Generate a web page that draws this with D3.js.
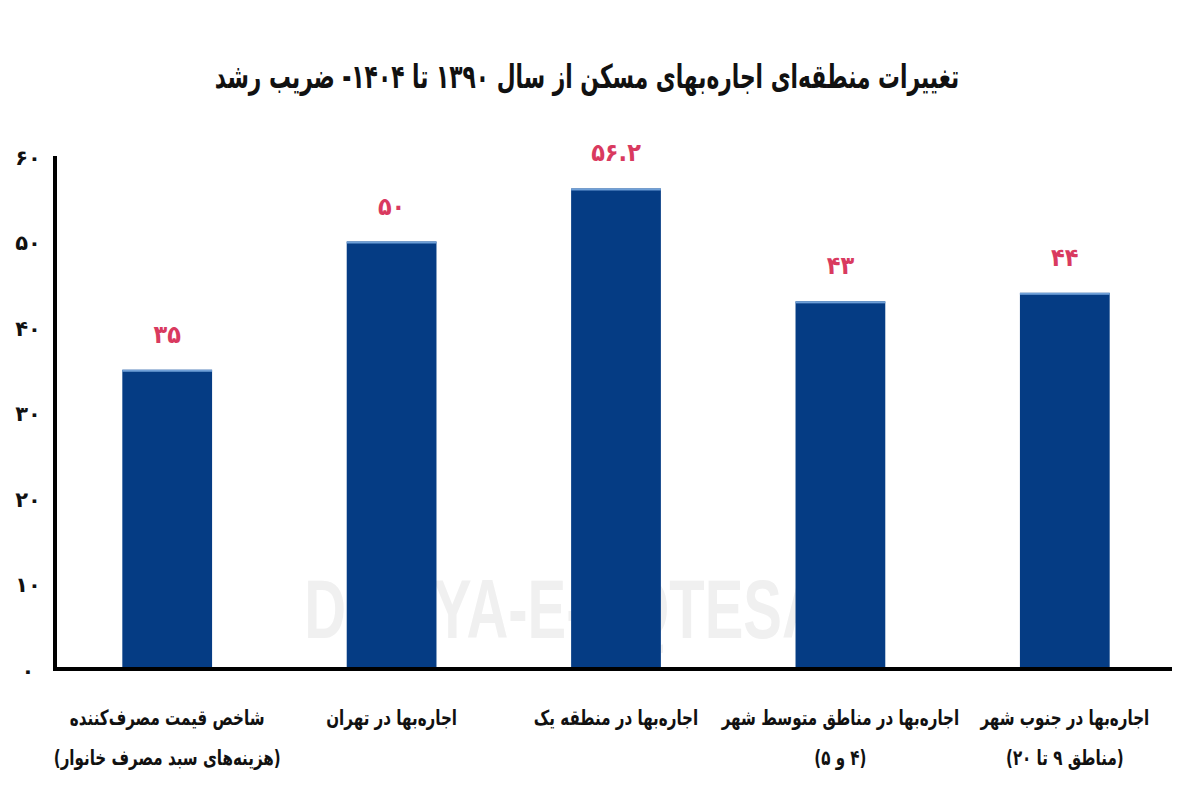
<!DOCTYPE html>
<html lang="fa">
<head>
<meta charset="utf-8">
<script src="https://cdn.jsdelivr.net/npm/d3@7"></script>
<style>
  html, body { margin: 0; padding: 0; background: #fff; }
  svg { display: block; }
  .fa { font-family: "DejaVu Sans", sans-serif; font-weight: bold; }
</style>
</head>
<body>
<svg id="chart" width="1200" height="800"></svg>
<script>
const title = "تغییرات منطقه‌ای اجاره‌بهای مسکن از سال ۱۳۹۰ تا ۱۴۰۴- ضریب رشد";
const categories = ["cpi", "tehran", "zone1", "middle", "south"];
const categoryLines = [
  ["شاخص قیمت مصرف‌کننده", "(هزینه‌های سبد مصرف خانوار)"],
  ["اجاره‌بها در تهران"],
  ["اجاره‌بها در منطقه یک"],
  ["اجاره‌بها در مناطق متوسط شهر", "(۴ و ۵)"],
  ["اجاره‌بها در جنوب شهر", "(مناطق ۹ تا ۲۰)"]
];
const values = [35, 50, 56.2, 43, 44];
const valueLabels = ["۳۵", "۵۰", "۵۶.۲", "۴۳", "۴۴"];
const yTicks = [0, 10, 20, 30, 40, 50, 60];
const yTickLabels = ["۰", "۱۰", "۲۰", "۳۰", "۴۰", "۵۰", "۶۰"];

const svg = d3.select("#chart");

// watermark
svg.append("g")
  .attr("transform", "translate(585,638) scale(0.69,1)")
  .append("text")
  .attr("text-anchor", "middle")
  .style("font-family", "'Liberation Sans', sans-serif")
  .style("font-weight", "bold")
  .attr("font-size", 84)
  .attr("fill", "#f0f0f0")
  .text("DONYA-E-EQTESAD");

const x = d3.scaleBand().domain(categories).range([55, 1177]).paddingInner(0.6).paddingOuter(0.3);
const y = d3.scaleLinear().domain([0, 60]).range([669, 156]);

// title (condensed via horizontal scale, the reference uses a narrow bold face)
svg.append("g")
  .attr("transform", "translate(587,88) scale(0.66,1)")
  .append("text")
  .attr("class", "fa")
  .attr("text-anchor", "middle")
  .attr("direction", "rtl")
  .attr("font-size", 33)
  .attr("fill", "#111")
  .text(title);

// bars
svg.selectAll("rect.bar").data(values).join("rect")
  .attr("class", "bar")
  .attr("x", (d, i) => x(categories[i]))
  .attr("width", x.bandwidth())
  .attr("y", d => y(d))
  .attr("height", d => y(0) - y(d))
  .attr("fill", "#053c84");
svg.selectAll("rect.hl").data(values).join("rect")
  .attr("class", "hl")
  .attr("x", (d, i) => x(categories[i]))
  .attr("width", x.bandwidth())
  .attr("y", d => y(d))
  .attr("height", 2)
  .attr("fill", "#6fa0d8");

// value labels
svg.selectAll("g.val").data(values).join("g")
  .attr("class", "val")
  .attr("transform", (d, i) => `translate(${x(categories[i]) + x.bandwidth() / 2},${y(d) - 27}) scale(0.9,1)`)
  .append("text")
  .attr("class", "fa")
  .attr("text-anchor", "middle")
  .attr("font-size", 25)
  .attr("fill", "#d93a5f")
  .text((d, i) => valueLabels[i]);

// y axis
const yAxis = d3.axisLeft(y).tickValues(yTicks).tickSize(0).tickPadding(0)
  .tickFormat((d, i) => yTickLabels[i]);
const gy = svg.append("g").attr("transform", "translate(55,0)").call(yAxis);
gy.select(".domain").remove();
gy.selectAll("text")
  .attr("class", "fa")
  .attr("x", -27)
  .attr("dy", "0.4em")
  .attr("text-anchor", "middle")
  .attr("font-size", 21)
  .attr("fill", "#111")
  .style("font-family", "'DejaVu Sans', sans-serif")
  .style("font-weight", "bold");

svg.append("line")
  .attr("x1", 55).attr("x2", 55)
  .attr("y1", y(60)).attr("y2", y(0) + 2)
  .attr("stroke", "#000").attr("stroke-width", 4);

// x axis
const xAxis = d3.axisBottom(x).tickSize(0).tickFormat("");
const gx = svg.append("g").attr("transform", `translate(0,${y(0)})`).call(xAxis);
gx.select(".domain").remove();
svg.append("line")
  .attr("x1", 53).attr("x2", 1172)
  .attr("y1", y(0)).attr("y2", y(0))
  .attr("stroke", "#000").attr("stroke-width", 4);

// category labels
const cat = svg.selectAll("g.cat").data(categories).join("g")
  .attr("class", "cat")
  .attr("transform", d => `translate(${x(d) + x.bandwidth() / 2},0)`);
cat.each(function(d, i) {
  d3.select(this).selectAll("g").data(categoryLines[i]).join("g")
    .attr("transform", (t, j) => `translate(0,${725 + j * 40}) scale(0.72,1)`)
    .append("text")
    .attr("class", "fa")
    .attr("text-anchor", "middle")
    .attr("direction", "rtl")
    .attr("font-size", 21)
    .attr("fill", "#111")
    .text(t => t);
});
</script>
</body>
</html>
